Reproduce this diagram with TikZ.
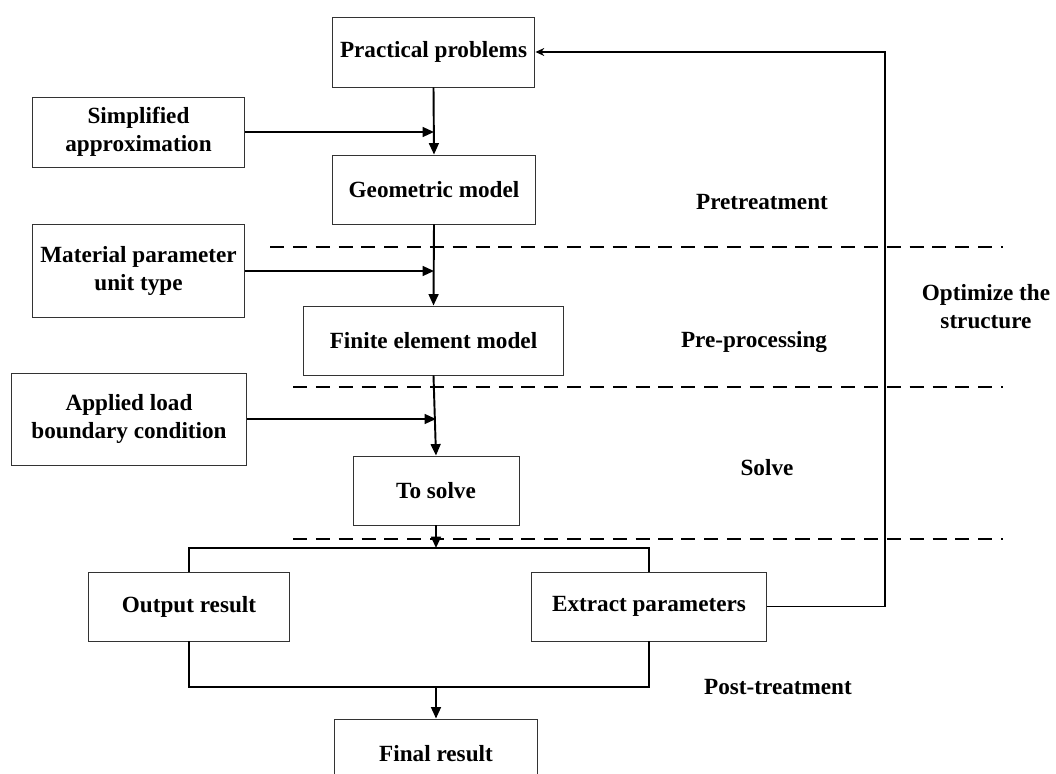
\documentclass[tikz,border=0pt]{standalone}
\usepackage{fontspec}
\setmainfont{Liberation Serif}
\usetikzlibrary{arrows.meta}
\tikzset{
  box/.style={rectangle, draw=black!80, line width=0.55pt, align=center,
    inner sep=2pt, font=\fontsize{13.2}{16}\selectfont\bfseries},
  tag/.style={align=center, font=\fontsize{13.2}{16}\selectfont\bfseries},
  arrow/.style={-{Triangle[length=6.5pt,width=5.6pt]}, line width=1.1pt},
  line/.style={line width=1.1pt},
  dashline/.style={line width=1.1pt, dash pattern=on 8pt off 5pt},
  backarrow/.style={-{Stealth[length=5pt,width=4.5pt]}, line width=0.6pt}
}
\begin{document}
\begin{tikzpicture}[x=0.02cm, y=-0.02cm]
  \clip (0,0) rectangle (1056,774);

  % Main column
  \node[box, minimum width=4.06cm, minimum height=1.4cm] (pp) at (433.5,52) {Practical problems};
  \node[box, minimum width=4.08cm, minimum height=1.38cm] (gm) at (434,189.5) {Geometric model};
  \node[box, minimum width=5.22cm, minimum height=1.38cm] (fe) at (433.5,340.5) {Finite element model};
  \node[box, minimum width=3.32cm, minimum height=1.38cm] (ts) at (436,490.5) {To solve};
  \node[box, minimum width=4.04cm, minimum height=1.38cm] (or) at (189,606.5) {Output result};
  \node[box, minimum width=4.72cm, minimum height=1.38cm] (ep) at (649,606.5) {Extract parameters};
  \node[box, minimum width=4.08cm, minimum height=1.4cm] (fr) at (436,754) {Final result};

  % Inputs on the left
  \node[box, minimum width=4.26cm, minimum height=1.4cm] (sa) at (138.5,132) {Simplified\\approximation};
  \node[box, minimum width=4.26cm, minimum height=1.86cm] (mp) at (138.5,271) {Material parameter\\unit type};
  \node[box, minimum width=4.72cm, minimum height=1.84cm] (al) at (129,419) {Applied load\\boundary condition};

  % Stage separators
  \draw[dashline] (270,247) -- (1003,247);
  \draw[dashline] (293,387) -- (1003,387);
  \draw[dashline] (293,539) -- (1003,539);

  % Stage labels
  \node[tag] (pretr) at (762,202) {Pretreatment};
  \node[tag] (prepr) at (754,342) {Pre-processing};
  \node[tag] (solv) at (767,468) {Solve};
  \node[tag] (posttr) at (778,687) {Post-treatment};
  \node[tag] (optim) at (986,307) {Optimize the\\structure};

  % Arrows
  \draw[arrow] (pp.south) -- (gm.north);
  \draw[arrow] (sa.east) -- (sa.east -| gm.north);
  \draw[arrow] (gm.south) -- (fe.north);
  \draw[arrow] (mp.east) -- (mp.east -| gm.south);
  \draw[arrow] (fe.south) -- (ts.north);
  \draw[arrow] (al.east) -- (al.east -| ts.north);

  \coordinate (split) at (436,548);
  \coordinate (merge) at (436,687);
  \coordinate (back) at (885,52);
  \draw[arrow] (ts.south) -- (split);
  \draw[line] (or.north) -- (or.north |- split) -- (ep.north |- split) -- (ep.north);
  \draw[line] (or.south) -- (or.south |- merge) -- (ep.south |- merge) -- (ep.south);
  \draw[arrow] (merge) -- (fr.north);
  \draw[backarrow] (ep.east) -| (back) -- (pp.east);
\end{tikzpicture}
\end{document}
